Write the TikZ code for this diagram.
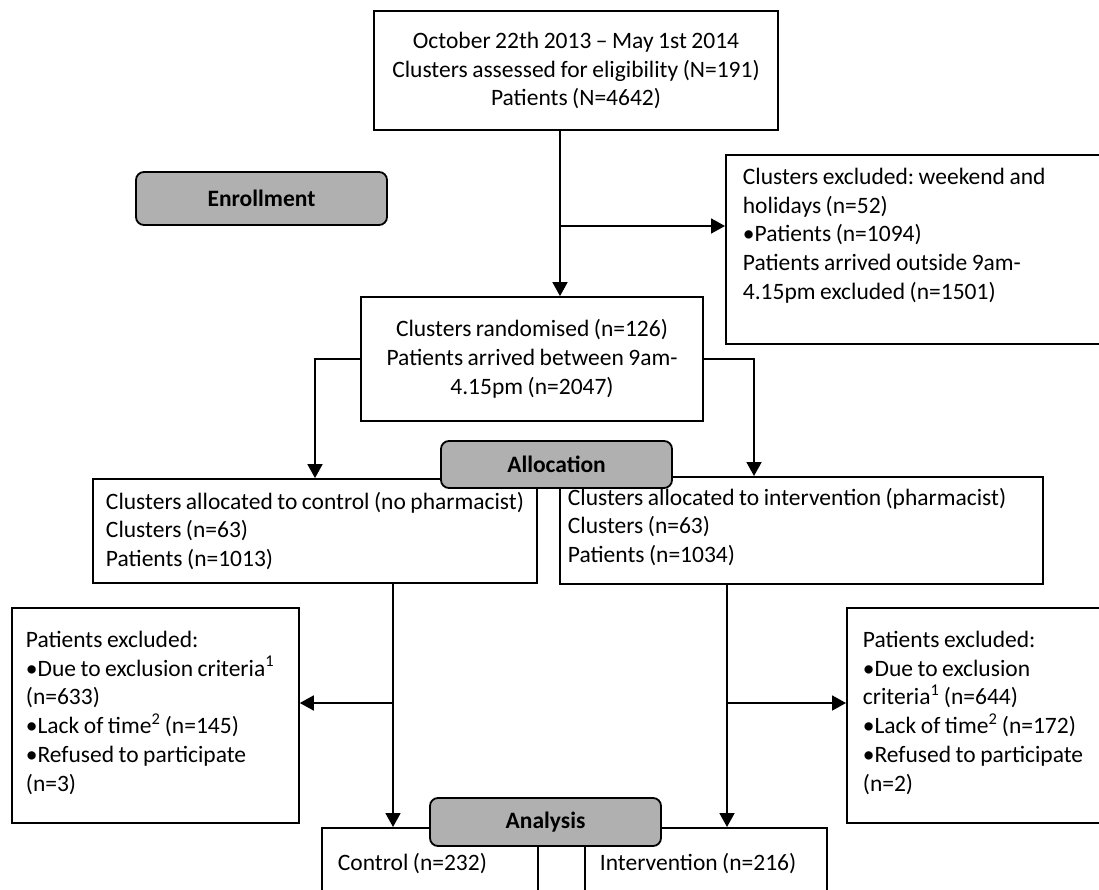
\documentclass[tikz,border=0pt]{standalone}
\usepackage{fontspec}
\setmainfont[WordSpace=0.85]{Carlito}
\usetikzlibrary{arrows.meta}
\definecolor{phasegray}{RGB}{176,176,176}
\newcommand{\boxtext}[3]{\parbox[t][#2][t]{#1}{\raggedright #3}}
\frenchspacing

\begin{document}
\begin{tikzpicture}[x=1pt, y=-1pt,
	every node/.style={font=\fontsize{23.5}{28.8}\selectfont, inner sep=0pt},
	box/.style={draw, line width=1.8pt, fill=white},
	phase/.style={draw, line width=1.8pt, fill=phasegray, rounded corners=8pt, font=\fontsize{23.5}{28.8}\selectfont\bfseries},
	arr/.style={line width=1.8pt, -{Triangle[width=15pt,length=14pt]}}]
			%%%%% START %%%%%
			
			\useasboundingbox (0,0) rectangle (1099,890);
			\clip (0,0) rectangle (1099,890);
			
			% enrollment
			\node[box, minimum width=404pt, minimum height=119pt, align=center] (assess) at (576,70.5) {October 22th 2013 – May 1st 2014\\Clusters assessed for eligibility (N=191)\\Patients (N=4642)};
			\node[box, anchor=north west, inner xsep=17pt, inner ysep=13pt] (wkend) at (725,154) {\boxtext{370pt}{163pt}{Clusters excluded: weekend and\\holidays (n=52)\\\textbullet Patients (n=1094)\\Patients arrived outside 9am-\\4.15pm excluded (n=1501)}};
			\node[box, minimum width=342pt, minimum height=124pt, align=center] (rand) at (532,359) {Clusters randomised (n=126)\\Patients arrived between 9am-\\4.15pm (n=2047)};
			
			\coordinate (split) at (560,226);
			\draw[arr] (split |- assess.south) -- (split |- rand.north);
			\draw[arr] (split) -- (split -| wkend.west);
			
			% allocation
			\node[box, minimum width=444pt, minimum height=104pt, align=left] (ctlalloc) at (315,531) {Clusters allocated to control (no pharmacist)\\Clusters (n=63)\\Patients (n=1013)};
			\node[box, anchor=north west, inner xsep=8pt, inner ysep=11pt] (intalloc) at (559,476) {\boxtext{467pt}{85pt}{Clusters allocated to intervention (pharmacist)\\Clusters (n=63)\\Patients (n=1034)}};
			
			\coordinate (rdrop) at (754,0);
			\draw[arr] (rand.west) -| (ctlalloc.north);
			\draw[arr] (rand.east) -| (rdrop |- intalloc.north);
			
			% exclusions
			\node[box, anchor=north west, inner xsep=14pt, inner ysep=23pt] (lexcl) at (11,607) {\boxtext{259pt}{169pt}{Patients excluded:\\\mbox{\textbullet Due to exclusion criteria\textsuperscript{1}}\\(n=633)\\\textbullet Lack of time\textsuperscript{2} (n=145)\\\textbullet Refused to participate\\(n=3)}};
			\node[box, anchor=north west, inner xsep=16pt, inner ysep=23pt] (rexcl) at (846,607) {\boxtext{270pt}{169pt}{Patients excluded:\\\textbullet Due to exclusion\\criteria\textsuperscript{1} (n=644)\\\textbullet Lack of time\textsuperscript{2} (n=172)\\\textbullet Refused to participate\\(n=2)}};
			
			% analysis
			\node[box, anchor=north west, inner xsep=16pt, inner ysep=25pt] (ctlres) at (321,827) {\boxtext{184pt}{24pt}{Control (n=232)}};
			\node[box, anchor=north west, inner xsep=15pt, inner ysep=25pt] (intres) at (584,827) {\boxtext{212pt}{24pt}{Intervention (n=216)}};
			
			\coordinate (lsplit) at (393,703);
			\coordinate (rsplit) at (727,703);
			\draw[arr] (lsplit |- ctlalloc.south) -- (lsplit |- ctlres.north);
			\draw[arr] (lsplit) -- (lsplit -| lexcl.east);
			\draw[arr] (rsplit |- intalloc.south) -- (rsplit |- intres.north);
			\draw[arr] (rsplit) -- (rsplit -| rexcl.west);
			
			% phase labels
			\node[phase, minimum width=251pt, minimum height=53pt] (enroll) at (261.5,198.5) {Enrollment};
			\node[phase, minimum width=231pt, minimum height=47pt] (alloc) at (556.5,464.5) {Allocation};
			\node[phase, minimum width=231pt, minimum height=48pt] (analysis) at (545.5,822) {Analysis};
			
			%%%%% END %%%%%
\end{tikzpicture}
\end{document}
